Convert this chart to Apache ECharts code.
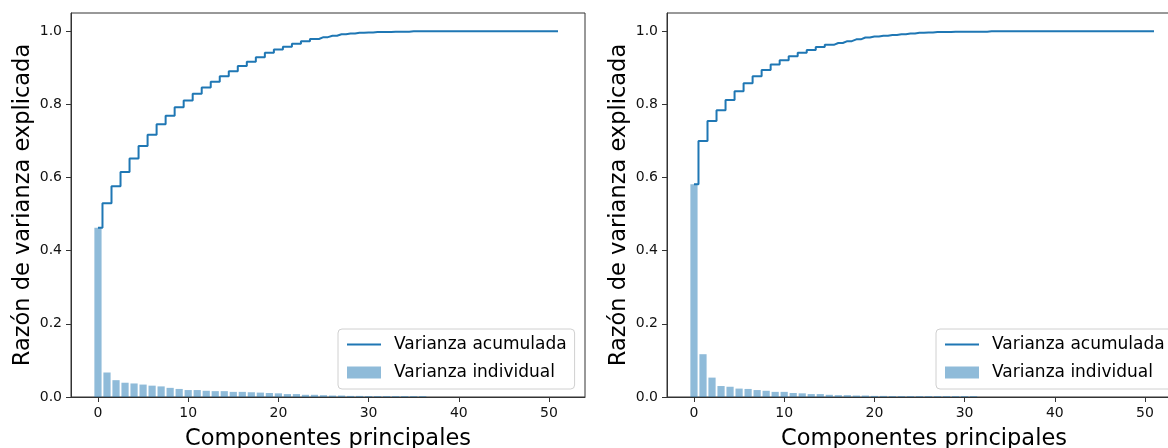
<!DOCTYPE html>
<html>
<head>
<meta charset="utf-8">
<script src="https://cdn.jsdelivr.net/npm/echarts@6/dist/echarts.min.js"></script>
<style>
html,body{margin:0;padding:0;background:#fff;}
#chart{width:1168px;height:448px;}
</style>
</head>
<body>
<div id="chart"></div>
<script>
// Component indices
var components = [0,1,2,3,4,5,6,7,8,9,10,11,12,13,14,15,16,17,18,19,20,21,22,23,24,25,26,27,28,29,30,31,32,33,34,35,36,37,38,39,40,41,42,43,44,45,46,47,48,49,50,51];

// Left panel
var leftIndividual = [0.463,0.067,0.046,0.039,0.037,0.034,0.031,0.029,0.025,0.022,0.019,0.019,0.017,0.016,0.016,0.014,0.014,0.013,0.012,0.011,0.010,0.008,0.008,0.006,0.006,0.005,0.004,0.004,0.003,0.003,0.0025,0.0025,0.0025,0.0025,0.0025,0.0025,0.0025,0,0,0,0,0,0,0,0,0,0,0,0,0,0,0];
var leftCumulative = [0.463,0.530,0.576,0.615,0.652,0.686,0.717,0.746,0.769,0.792,0.811,0.829,0.846,0.862,0.877,0.891,0.905,0.917,0.929,0.941,0.950,0.958,0.966,0.973,0.979,0.984,0.988,0.992,0.994,0.996,0.997,0.998,0.998,0.999,0.999,1.000,1.000,1.000,1.000,1.000,1.000,1.000,1.000,1.000,1.000,1.000,1.000,1.000,1.000,1.000,1.000,1.000];

// Right panel
var rightIndividual = [0.582,0.117,0.053,0.030,0.028,0.023,0.022,0.019,0.017,0.014,0.014,0.011,0.010,0.008,0.008,0.006,0.005,0.005,0.004,0.004,0.003,0.003,0.0025,0.0025,0.0025,0.0025,0.0025,0.0025,0.0025,0.0025,0.0025,0.0025,0,0,0,0,0,0,0,0,0,0,0,0,0,0,0,0,0,0,0,0];
var rightCumulative = [0.582,0.700,0.755,0.784,0.812,0.836,0.858,0.877,0.894,0.909,0.921,0.932,0.941,0.949,0.957,0.963,0.968,0.973,0.978,0.983,0.986,0.988,0.990,0.992,0.994,0.996,0.997,0.998,0.998,0.999,0.999,0.999,0.999,1.000,1.000,1.000,1.000,1.000,1.000,1.000,1.000,1.000,1.000,1.000,1.000,1.000,1.000,1.000,1.000,1.000,1.000,1.000];

var xTicks = [0,10,20,30,40,50];
var yTicks = [0,0.2,0.4,0.6,0.8,1.0];
var seriesNames = ['Varianza acumulada','Varianza individual'];
var xTitle = 'Componentes principales';
var yTitle = 'Razón de varianza explicada';

var FONT = 'DejaVu Sans';
var LINE = '#1f77b4';
var BAR = 'rgba(31,119,180,0.5)';
var LINE_ICON = 'path://M0,0M34,12M0,5L34,5L34,7L0,7Z';

function pairs(vals){ return components.map(function(c,i){ return [c, vals[i]]; }); }

function xAxis(idx){
  return {
    type:'value', gridIndex:idx, min:-2.99, max:53.99,
    name:xTitle, nameLocation:'middle', nameGap:31,
    nameTextStyle:{fontFamily:FONT,fontSize:22.5,color:'#000'},
    axisLine:{show:true,onZero:false,lineStyle:{color:'#333',width:1}},
    axisTick:{show:true,length:5,lineStyle:{color:'#333'},customValues:xTicks},
    axisLabel:{fontFamily:FONT,fontSize:14,color:'#111',margin:9,customValues:xTicks},
    splitLine:{show:false}
  };
}
function yAxis(idx){
  return {
    type:'value', gridIndex:idx, min:0, max:1.05,
    name:yTitle, nameLocation:'middle', nameGap:36,
    nameTextStyle:{fontFamily:FONT,fontSize:22.5,color:'#000'},
    axisLine:{show:true,onZero:false,lineStyle:{color:'#333',width:1}},
    axisTick:{show:true,length:5,lineStyle:{color:'#333'},customValues:yTicks},
    axisLabel:{fontFamily:FONT,fontSize:14,color:'#111',margin:9,customValues:yTicks,
      formatter:function(v){return v.toFixed(1);}},
    splitLine:{show:false}
  };
}
function legend(left){
  return {
    left:left, top:329, orient:'vertical',
    itemWidth:34, itemHeight:12, itemGap:11,
    padding:[7,8,8,9],
    backgroundColor:'rgba(255,255,255,0.8)',
    borderColor:'#d0d0d0', borderWidth:1, borderRadius:4,
    textStyle:{fontFamily:FONT,fontSize:17,color:'#000',padding:[0,0,0,8]},
    data:[{name:seriesNames[0],icon:LINE_ICON,itemStyle:{color:LINE}},{name:seriesNames[1],icon:'rect'}]
  };
}

var option = {
  animation:false,
  backgroundColor:'#fff',
  grid:[
    {left:71,top:13,width:514,height:384,outerBoundsMode:'none',containLabel:false,show:true,borderColor:'#333',borderWidth:1,backgroundColor:'transparent'},
    {left:667,top:13,width:514,height:384,outerBoundsMode:'none',containLabel:false,show:true,borderColor:'#333',borderWidth:1,backgroundColor:'transparent'}
  ],
  xAxis:[xAxis(0),xAxis(1)],
  yAxis:[yAxis(0),yAxis(1)],
  legend:[legend(338),legend(936)],
  series:[
    {name:seriesNames[1],type:'bar',xAxisIndex:0,yAxisIndex:0,barWidth:7.2,data:pairs(leftIndividual),itemStyle:{color:BAR},z:1},
    {name:seriesNames[0],type:'line',xAxisIndex:0,yAxisIndex:0,step:'middle',symbol:'none',data:pairs(leftCumulative),lineStyle:{color:LINE,width:2},itemStyle:{color:LINE},z:2},
    {name:seriesNames[1],type:'bar',xAxisIndex:1,yAxisIndex:1,barWidth:7.2,data:pairs(rightIndividual),itemStyle:{color:BAR},z:1},
    {name:seriesNames[0],type:'line',xAxisIndex:1,yAxisIndex:1,step:'middle',symbol:'none',data:pairs(rightCumulative),lineStyle:{color:LINE,width:2},itemStyle:{color:LINE},z:2}
  ]
};

var chart = echarts.init(document.getElementById('chart'),null,{renderer:'canvas'});
chart.setOption(option);
</script>
</body>
</html>
